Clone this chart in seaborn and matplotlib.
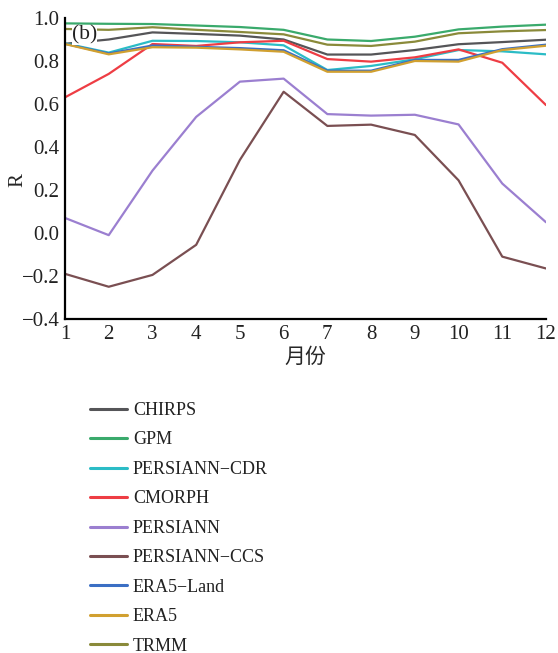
import numpy as np
import pandas as pd
import seaborn as sns
import matplotlib
matplotlib.use("Agg")
import matplotlib.pyplot as plt

months = list(range(1, 13))
chirps = [0.88, 0.900, 0.933, 0.926, 0.918, 0.900, 0.830, 0.830, 0.851, 0.878, 0.888, 0.899]
gpm = [0.975, 0.973, 0.972, 0.965, 0.958, 0.945, 0.900, 0.893, 0.913, 0.947, 0.960, 0.969]
persiann_cdr = [0.882, 0.839, 0.894, 0.893, 0.887, 0.873, 0.758, 0.777, 0.808, 0.851, 0.845, 0.831]
cmorph = [0.631, 0.740, 0.879, 0.870, 0.887, 0.894, 0.809, 0.797, 0.817, 0.854, 0.792, 0.595]
persiann = [0.070, -0.010, 0.290, 0.540, 0.704, 0.718, 0.553, 0.546, 0.550, 0.505, 0.230, 0.050]
persiann_ccs = [-0.190, -0.250, -0.195, -0.055, 0.340, 0.657, 0.498, 0.504, 0.456, 0.245, -0.110, -0.165]
era5_land = [0.880, 0.835, 0.872, 0.866, 0.860, 0.850, 0.755, 0.755, 0.805, 0.805, 0.855, 0.876]
era5 = [0.879, 0.831, 0.864, 0.862, 0.854, 0.843, 0.750, 0.750, 0.800, 0.797, 0.851, 0.871]
trmm = [0.949, 0.945, 0.957, 0.945, 0.935, 0.924, 0.876, 0.870, 0.890, 0.929, 0.938, 0.944]

names = ["CHIRPS", "GPM", "PERSIANN\u2212CDR", "CMORPH", "PERSIANN",
         "PERSIANN\u2212CCS", "ERA5\u2212Land", "ERA5", "TRMM"]
series = [chirps, gpm, persiann_cdr, cmorph, persiann, persiann_ccs, era5_land, era5, trmm]
colors = ["#555558", "#3aaa6c", "#2bbcc6", "#ee3d44", "#9b7fd0",
          "#7a4f52", "#3b6fc4", "#d1a030", "#8a8a3a"]

df = pd.DataFrame({
    "month": np.tile(months, len(names)),
    "R": np.concatenate(series),
    "product": np.repeat(names, len(months)),
})

sns.set_style("white")
plt.rcParams['font.family'] = ['Liberation Serif', 'Noto Sans CJK SC', 'DejaVu Sans']
plt.rcParams['axes.unicode_minus'] = True

fig = plt.figure(figsize=(5.58, 6.53), dpi=100)
ax = fig.add_axes([65/558, 1 - 319/653, (546-65)/558, (319-18)/653])

sns.lineplot(data=df, x="month", y="R", hue="product", hue_order=names,
             palette=dict(zip(names, colors)), linewidth=1.6, ax=ax, legend=True)

ax.set_xlim(1, 12)
ax.set_ylim(-0.4, 1.0)
ax.set_xticks(months)
ax.set_yticks(np.arange(-0.4, 1.01, 0.2))
ax.set_yticklabels([f"{v:.1f}".replace("-", "\u2212") for v in np.arange(-0.4, 1.01, 0.2)])
for s in ["top", "right"]:
    ax.spines[s].set_visible(False)
for s in ["left", "bottom"]:
    ax.spines[s].set_linewidth(1.6)
    ax.spines[s].set_color("black")
ax.tick_params(direction="in", length=6, width=1.5, labelsize=15, colors="black", pad=4)
for t in ax.get_xticklabels() + ax.get_yticklabels():
    t.set_color("#222222")

ax.set_xlabel("月份", fontsize=15, family=['Noto Sans CJK SC'], labelpad=2)
ax.set_ylabel("R", fontsize=15)
ax.yaxis.set_label_coords(-0.079, 0.46)

ax.text(0.015, 0.943, "(b)", transform=ax.transAxes, fontsize=15.5, va="center", ha="left",
        color="#222222", bbox=dict(facecolor="white", edgecolor="none", pad=0), zorder=5)

handles, labels = ax.get_legend_handles_labels()
ax.get_legend().remove()
leg = fig.legend(handles, labels, loc="upper left",
                 bbox_to_anchor=(90/558, 1 - 402/653), frameon=False,
                 fontsize=13, handlelength=2.05, handletextpad=0.33,
                 labelspacing=0.69, borderpad=0, borderaxespad=0)
for line in leg.get_lines():
    line.set_linewidth(2.2)
for t in leg.get_texts():
    t.set_color("#222222")

fig.savefig("out.png", dpi=100)
